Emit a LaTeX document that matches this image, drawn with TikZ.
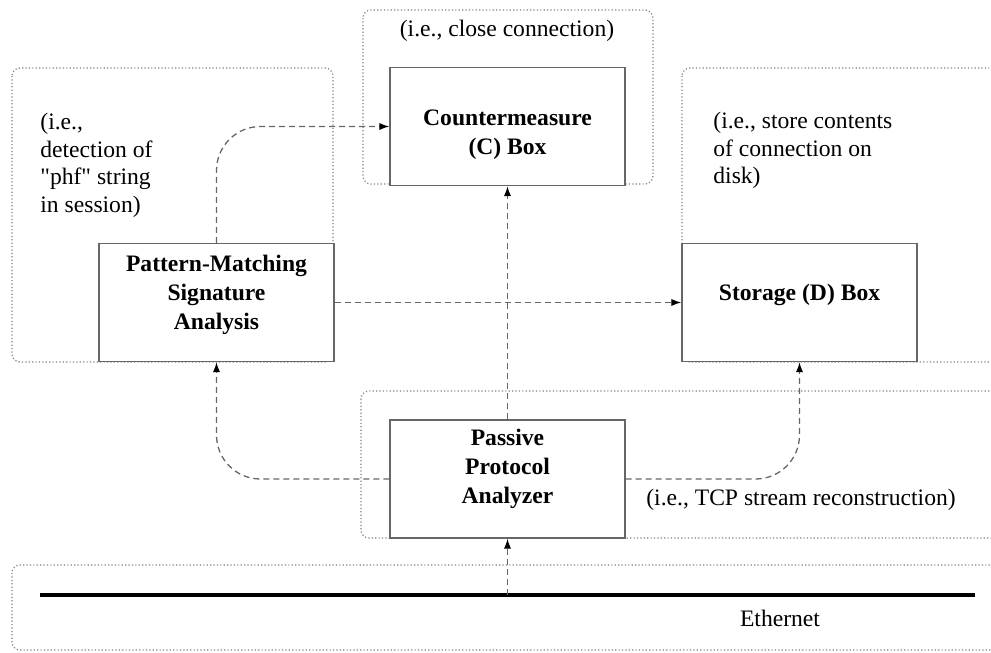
\documentclass[tikz,border=0pt]{standalone}
\usepackage{fontspec}
\setmainfont{Liberation Serif}
\usetikzlibrary{arrows.meta}
\begin{document}
\begin{tikzpicture}[x=0.5pt,y=-0.5pt,
 region/.style={draw=black!50, line width=0.6pt, dash pattern=on 0.6pt off 1.1pt, rounded corners=4pt},
 box/.style={draw=black!60, line width=0.7pt, fill=white, rectangle, inner sep=0pt, minimum width=117.5pt, minimum height=59pt},
 boxtext/.style={font=\fontsize{11.8}{14.5}\selectfont\bfseries, align=center, inner sep=0pt},
 note/.style={font=\fontsize{11.8}{13.8}\selectfont, align=left, inner sep=0pt},
 flow/.style={draw=black!60, line width=0.65pt, dash pattern=on 3pt off 2pt, rounded corners=22pt, -{Latex[length=5pt,width=3.6pt,color=black]}}]
\useasboundingbox (0,0) rectangle (991,653);
% regions
\begin{scope}
\clip (0,0) rectangle (991,653);
\draw[region] (363,10) rectangle (653,184);
\draw[region] (12,68) rectangle (333,362);
\draw[region] (682,68) rectangle (1010,362);
\draw[region] (361,391) rectangle (1010,538);
\draw[region] (12,565) rectangle (1010,650);
\end{scope}
% boxes
\node[box] (cm) at (507.5,126.5) {};
\node[box] (pm) at (216.5,302.5) {};
\node[box] (st) at (799.5,302.5) {};
\node[box] (pa) at (507.5,479) {};
\node[boxtext] (cmt) at (507.5,135) {Countermeasure\\(C) Box};
\node[boxtext] (pmt) at (216.5,295) {Pattern-Matching\\Signature\\Analysis};
\node[boxtext] (stt) at (799.5,295) {Storage (D) Box};
\node[boxtext] (pat) at (507.5,469) {Passive\\Protocol\\Analyzer};
% notes
\node[note] (ncm) at (507,31) {(i.e., close connection)};
\node[note, anchor=north west] (npm) at (40,113) {(i.e.,\\detection of\\\textquotedbl phf\textquotedbl{} string\\in session)};
\node[note, anchor=north west] (nst) at (713,112) {(i.e., store contents\\of connection on\\disk)};
\node[note] (npa) at (801,500) {(i.e., TCP stream reconstruction)};
\node[note] (neth) at (780,618) {Ethernet};
% ethernet
\coordinate (eL) at (40,595);
\coordinate (eR) at (975,595);
\coordinate (tap) at (507.5,595);
\draw[line width=2pt] (eL) -- (eR);
% connectors
\draw[flow] (pm.north) |- (cm.west);
\draw[flow] (pm.east) -- (st.west);
\draw[flow] (pa.north) -- (cm.south);
\draw[flow] (pa.west) -| (pm.south);
\draw[flow] (pa.east) -| (st.south);
\draw[flow] (tap) -- (pa.south);
\end{tikzpicture}
\end{document}
